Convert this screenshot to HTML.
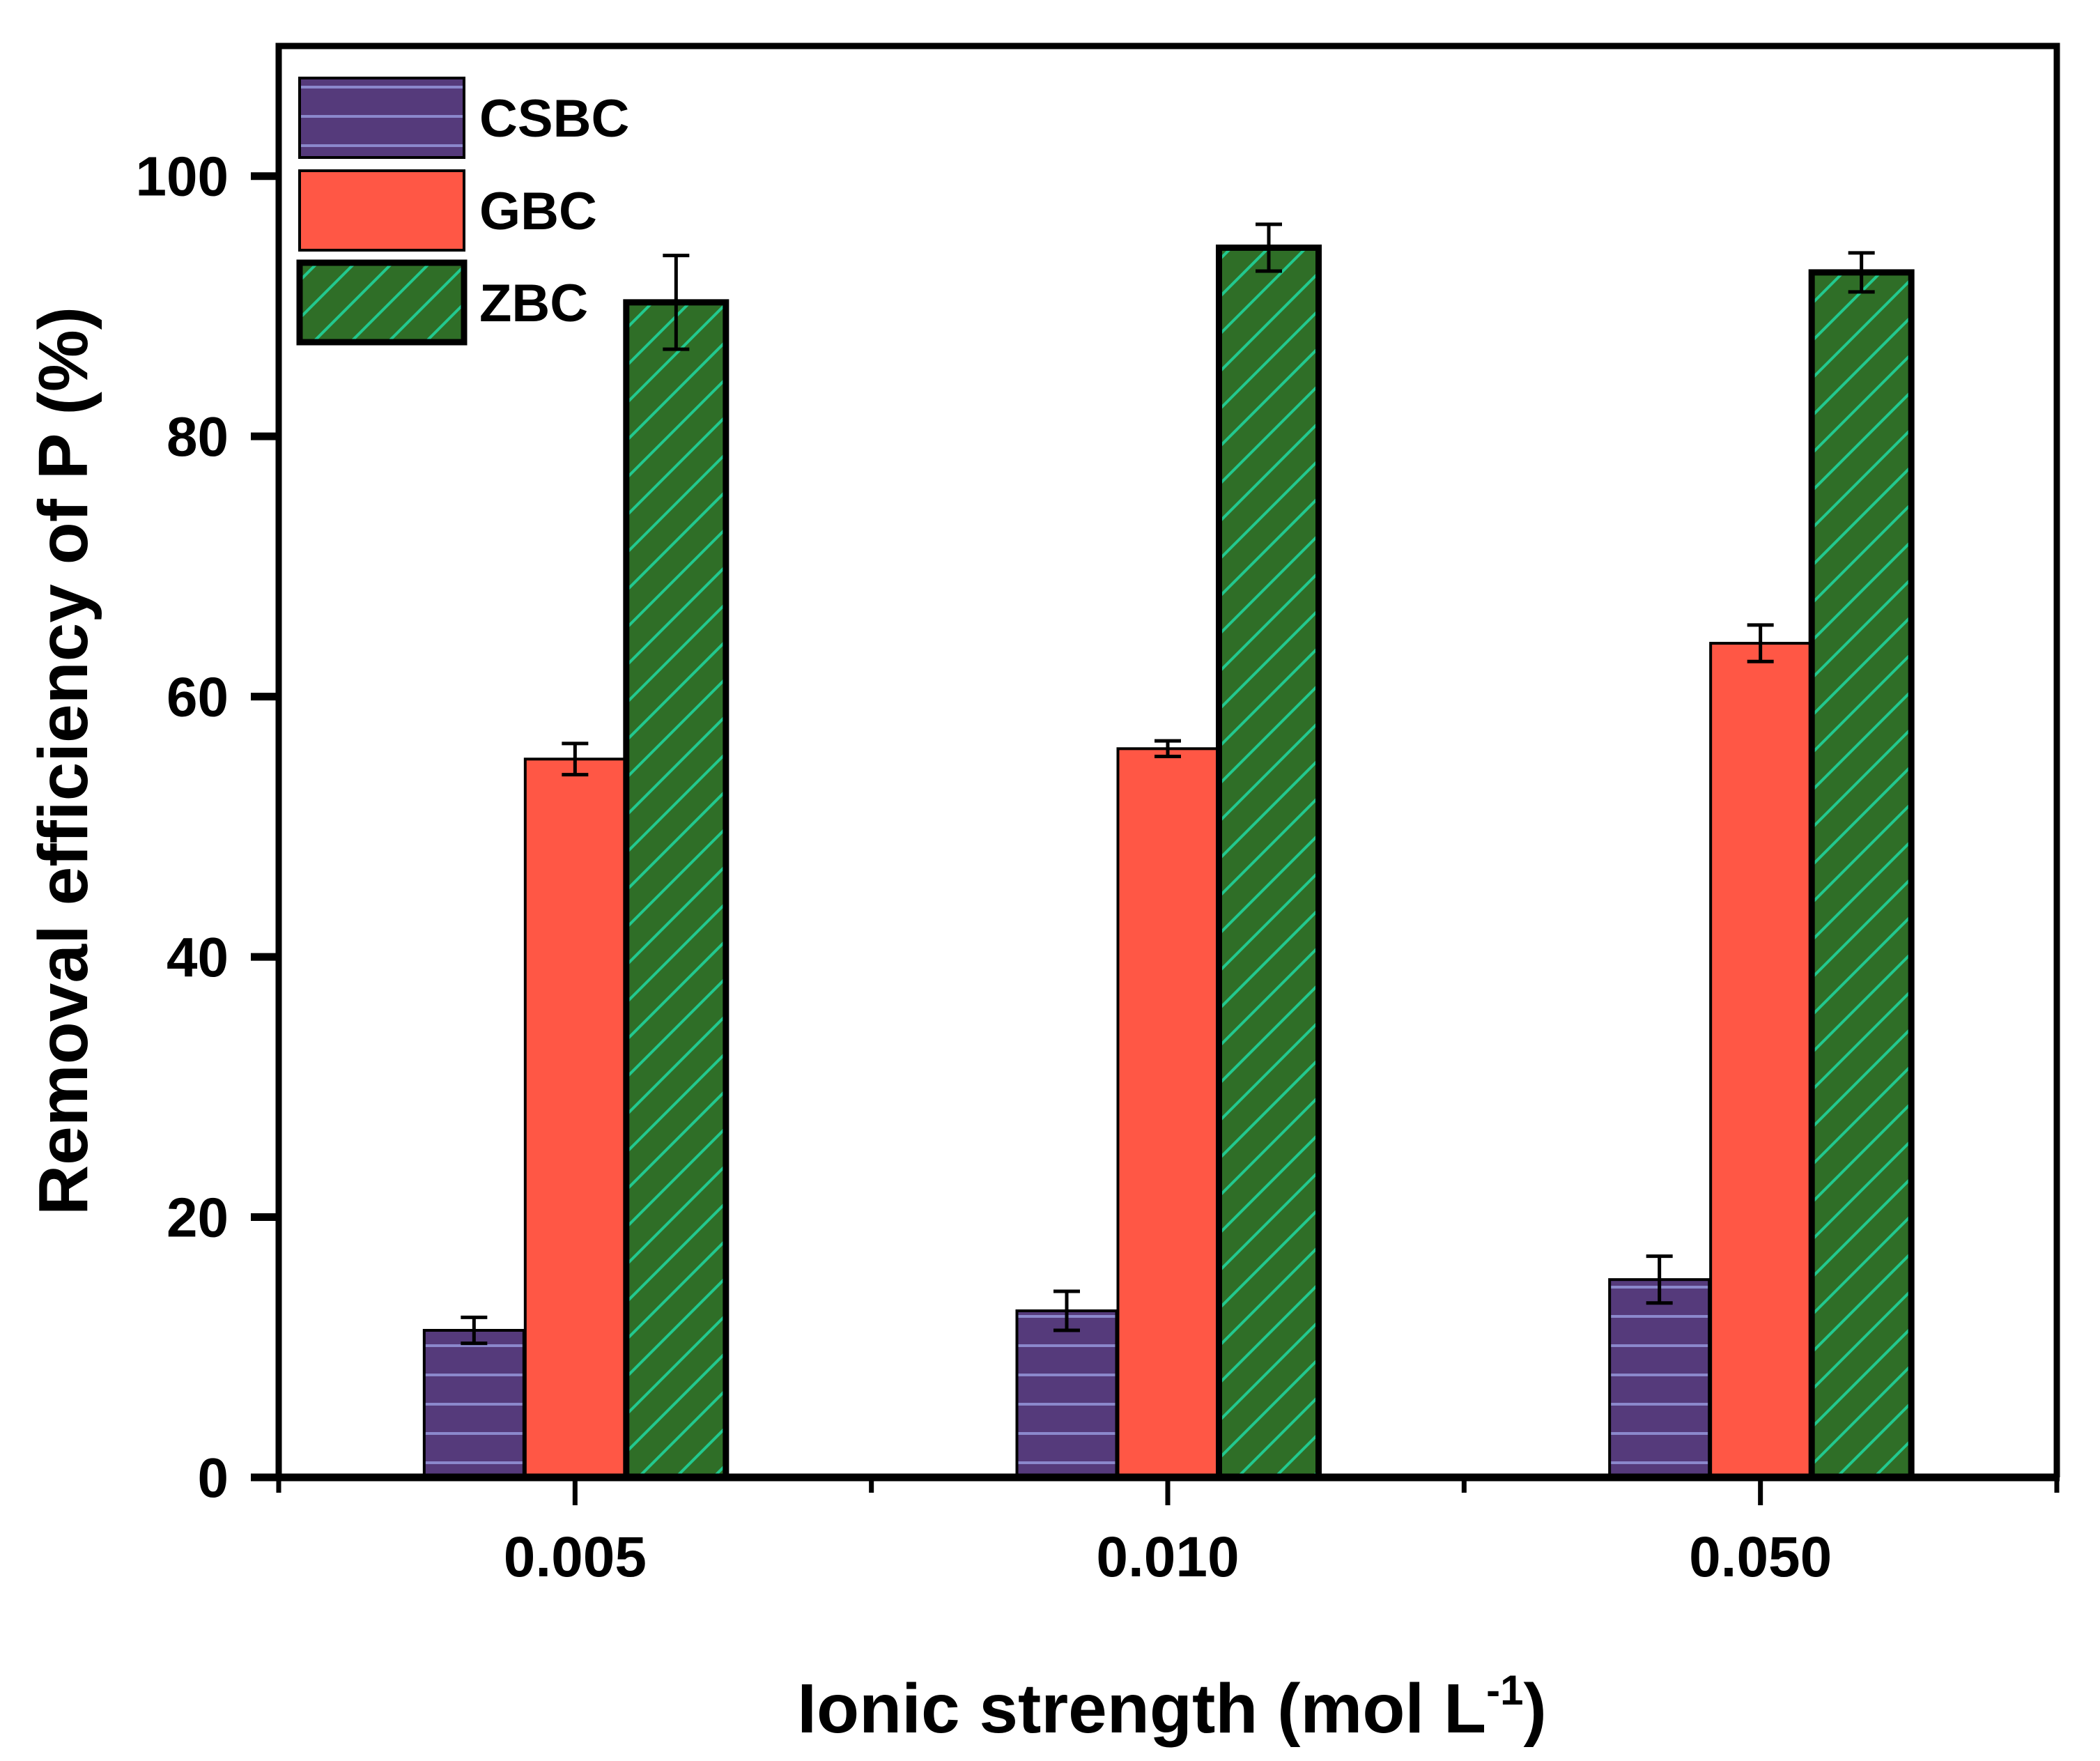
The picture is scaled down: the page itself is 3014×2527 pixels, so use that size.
<!DOCTYPE html>
<html><head><meta charset="utf-8"><style>
html,body{margin:0;padding:0;background:#fff;}
svg{display:block;}
text{font-family:"Liberation Sans",sans-serif;font-weight:bold;fill:#000;}
</style></head>
<body>
<svg id="chart" width="3014" height="2527" viewBox="0 0 3014 2527">
<defs>
<pattern id="hpat" patternUnits="userSpaceOnUse" width="40" height="42" y="2120">
<rect width="40" height="42" fill="#553a7b"/>
<rect y="19" width="40" height="4" fill="#8b88cc"/>
</pattern>
<pattern id="dpat" patternUnits="userSpaceOnUse" width="38" height="38" patternTransform="rotate(45)">
<rect width="38" height="38" fill="#2f6e27"/>
<rect x="17" width="4" height="38" fill="#22c98f"/>
</pattern>
</defs>
<g id="plot"></g>
<text transform="translate(125,1092) rotate(-90)" text-anchor="middle" font-size="100">Removal efficiency of P (%)</text>
<text x="1682" y="2486" text-anchor="middle" font-size="100">Ionic strength (mol L<tspan dy="-40" font-size="60">-1</tspan><tspan dy="40">)</tspan></text>
</svg>
<script>
const categories = ["0.005", "0.010", "0.050"];
const seriesNames = ["CSBC", "GBC", "ZBC"];
const csbcValues = [11.3, 12.8, 15.2];
const csbcErrors = [1.0, 1.5, 1.8];
const gbcValues = [55.2, 56.0, 64.1];
const gbcErrors = [1.2, 0.6, 1.4];
const zbcValues = [90.3, 94.5, 92.6];
const zbcErrors = [3.6, 1.8, 1.5];
const yTicks = [0, 20, 40, 60, 80, 100];

const NS = "http://www.w3.org/2000/svg";
const g = document.getElementById('plot');
const L = 400, R = 2952, T = 66, B = 2120;
const yMin = 0, yMax = 110.0;
function y(v){ return B - (v - yMin) / (yMax - yMin) * (B - T); }
function x(i){ return L + (i + 0.5) / 3 * (R - L); }
function mk(tag, attrs){ const e = document.createElementNS(NS, tag); for (const k in attrs) e.setAttribute(k, attrs[k]); g.appendChild(e); return e; }

const fills = ["url(#hpat)", "#ff5745", "url(#dpat)"];
const vals = [csbcValues, gbcValues, zbcValues];
const errs = [csbcErrors, gbcErrors, zbcErrors];
const bw = 143, off = 145;
for (let s = 0; s < 3; s++) {
  for (let i = 0; i < categories.length; i++) {
    const cx = x(i) + (s - 1) * off;
    const top = y(vals[s][i]);
    const r = mk('rect', {x: cx - bw/2, y: top, width: bw, height: B - top, fill: fills[s], stroke: '#000', 'stroke-width': s === 2 ? 9 : 4});
    
    
    const e1 = y(vals[s][i] + errs[s][i]), e2 = y(vals[s][i] - errs[s][i]);
    const eb = mk('path', {d: `M${cx},${e1}V${e2}M${cx-19},${e1}H${cx+19}M${cx-19},${e2}H${cx+19}`, stroke: '#000', 'stroke-width': 5, fill: 'none'});
    
    
  }
}
const fr = mk('path', {d: `M${L},${B}V${T}H${R}V${B}`, stroke: '#000', 'stroke-width': 9, fill: 'none'});


const xa = mk('line', {x1: L - 4, y1: B, x2: R + 4, y2: B, stroke: '#000', 'stroke-width': 11});


yTicks.forEach(v => {
  const t = mk('line', {x1: L - 40, y1: y(v), x2: L, y2: y(v), stroke: '#000', 'stroke-width': 11});
  
  
  const lb = mk('text', {x: 328, y: y(v) + 28, 'text-anchor': 'end', 'font-size': 80});
  lb.textContent = v;
  
  
});
categories.forEach((c, i) => {
  const t = mk('line', {x1: x(i), y1: B, x2: x(i), y2: B + 40, stroke: '#000', 'stroke-width': 7});
  
  
  const lb = mk('text', {x: x(i), y: 2262, 'text-anchor': 'middle', 'font-size': 82});
  lb.textContent = c;
  
  
});
for (let k = 0; k <= 3; k++) {
  const mx = L + k / 3 * (R - L);
  const t = mk('line', {x1: mx, y1: B, x2: mx, y2: B + 22, stroke: '#000', 'stroke-width': 7});
  
  
}
const ly = [112, 245, 377];
seriesNames.forEach((n, s) => {
  const r = mk('rect', {x: 430, y: ly[s], width: 236, height: 114, fill: fills[s], stroke: '#000', 'stroke-width': s === 2 ? 9 : 4});
  
  
  const t = mk('text', {x: 688, y: ly[s] + 84, 'font-size': 76});
  t.textContent = n;
  
  
});
</script>
</body></html>
